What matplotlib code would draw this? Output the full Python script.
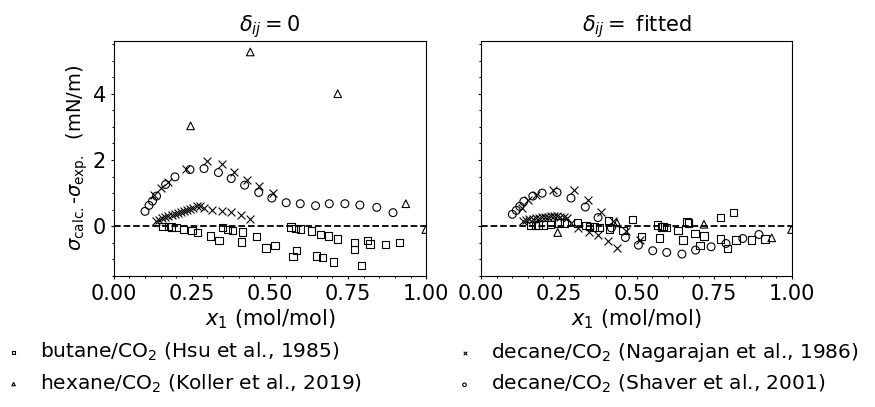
import matplotlib
matplotlib.use("Agg")
import matplotlib.pyplot as plt
from matplotlib.ticker import MultipleLocator

# butane/CO2 (Hsu et al., 1985)
x_but = [0.158, 0.175, 0.185, 0.199, 0.223, 0.25, 0.268, 0.31, 0.337, 0.349, 0.365, 0.38,
         0.41, 0.412, 0.456, 0.487, 0.516, 0.567, 0.574, 0.581, 0.585, 0.597, 0.633, 0.649,
         0.662, 0.668, 0.688, 0.704, 0.717, 0.771, 0.771, 0.793, 0.812, 0.82, 0.87, 0.914]
y_but_0 = [0, 0, -0.02, -0.04, -0.1, -0.12, -0.18, -0.29, -0.44, -0.04, -0.09, -0.12,
           -0.48, -0.17, -0.3, -0.66, -0.58, -0.02, -0.92, -0.06, -0.74, -0.08, -0.14, -0.9,
           -0.24, -0.94, -0.29, -1.08, -0.39, -0.5, -0.7, -1.19, -0.43, -0.54, -0.56, -0.5]
y_but_fit = [0.02, 0.03, 0.04, 0.04, 0.06, 0.1, 0.1, 0.1, 0.02, 0.0, -0.02, -0.03,
             0.18, -0.08, -0.12, 0.2, -0.3, 0.04, -0.35, -0.02, 0.0, -0.04, -0.12, -0.42,
             0.13, 0.1, -0.21, -0.58, -0.29, 0.26, -0.39, -0.67, 0.42, -0.41, -0.42, -0.39]

# hexane/CO2 (Koller et al., 2019)
x_hex = [0.246, 0.437, 0.717, 0.935, 0.999]
y_hex_0 = [3.03, 5.26, 4.0, 0.68, -0.1]
y_hex_fit = [-0.19, 0.1, 0.06, -0.35, -0.1]

# decane/CO2 (Nagarajan et al., 1986), two branches
x_dn = [0.13, 0.15, 0.175, 0.23, 0.30, 0.345, 0.385, 0.425, 0.465, 0.51,
        0.135, 0.145, 0.155, 0.165, 0.175, 0.185, 0.195, 0.205, 0.215, 0.225, 0.235,
        0.245, 0.255, 0.265, 0.275, 0.29, 0.313, 0.346, 0.375, 0.407, 0.437]
y_dn_0 = [0.95, 1.14, 1.34, 1.72, 1.98, 1.87, 1.63, 1.40, 1.20, 0.99,
          0.16, 0.2, 0.24, 0.28, 0.32, 0.35, 0.38, 0.41, 0.44, 0.47, 0.5,
          0.53, 0.56, 0.6, 0.62, 0.55, 0.5, 0.46, 0.44, 0.35, 0.21]
y_dn_fit = [0.55, 0.78, 0.95, 1.1, 1.08, 0.78, 0.42, 0.15, -0.14, -0.42,
            0.16, 0.19, 0.21, 0.23, 0.25, 0.26, 0.27, 0.28, 0.29, 0.3, 0.3,
            0.3, 0.29, 0.27, 0.24, 0.1, -0.04, -0.16, -0.26, -0.45, -0.66]

# decane/CO2 (Shaver et al., 2001)
x_ds = [0.1, 0.113, 0.124, 0.137, 0.166, 0.196, 0.244, 0.289, 0.335, 0.376, 0.419,
        0.464, 0.506, 0.552, 0.597, 0.646, 0.69, 0.74, 0.788, 0.842, 0.894]
y_ds_0 = [0.45, 0.63, 0.76, 0.91, 1.26, 1.49, 1.71, 1.74, 1.62, 1.44, 1.24,
          1.02, 0.85, 0.71, 0.68, 0.62, 0.68, 0.68, 0.64, 0.57, 0.41]
y_ds_fit = [0.36, 0.48, 0.6, 0.75, 0.91, 1.0, 1.02, 0.85, 0.58, 0.26, -0.05,
            -0.34, -0.57, -0.74, -0.79, -0.84, -0.72, -0.62, -0.52, -0.37, -0.25]

labels = ["butane/CO$_2$ (Hsu et al., 1985)",
          "hexane/CO$_2$ (Koller et al., 2019)",
          "decane/CO$_2$ (Nagarajan et al., 1986)",
          "decane/CO$_2$ (Shaver et al., 2001)"]

plt.rcParams['font.size'] = 15

fig = plt.figure(figsize=(8.75, 4.07), dpi=100)
ax1 = fig.add_axes([0.130, 0.322, 0.357, 0.578])
ax2 = fig.add_axes([0.550, 0.322, 0.355, 0.578], sharey=ax1)

mk = dict(facecolors='none', edgecolors='black', linewidths=0.8)
series = [
    (x_but, y_but_0, y_but_fit, 's', 28),
    (x_hex, y_hex_0, y_hex_fit, '^', 30),
    (x_dn, y_dn_0, y_dn_fit, 'x', 32),
    (x_ds, y_ds_0, y_ds_fit, 'o', 32),
]

handles = []
for ax, idx in [(ax1, 1), (ax2, 2)]:
    for s in series:
        if s[3] == 'x':
            h = ax.scatter(s[0], s[idx], marker='x', s=s[4], color='black', linewidths=0.8)
        else:
            h = ax.scatter(s[0], s[idx], marker=s[3], s=s[4], **mk)
        if idx == 1:
            handles.append(h)
    ax.axhline(0, color='black', ls='--', lw=1.3)
    ax.set_xlim(0, 1)
    ax.set_ylim(-1.5, 5.6)
    ax.xaxis.set_major_locator(MultipleLocator(0.25))
    ax.xaxis.set_minor_locator(MultipleLocator(0.05))
    ax.yaxis.set_major_locator(MultipleLocator(2))
    ax.yaxis.set_minor_locator(MultipleLocator(0.5))
    ax.tick_params(which='major', length=2.5, width=0.8, pad=3)
    ax.tick_params(which='minor', length=1.5, width=0.8)
    ax.set_xlabel("$x_1$ (mol/mol)", labelpad=3)

ax2.tick_params(labelleft=False)
ax1.set_title(r"$\delta_{ij} = 0$", fontsize=15, pad=7)
ax2.set_title(r"$\delta_{ij} =$ fitted", fontsize=15, pad=7)
ax1.set_ylabel(r"$\sigma_{\rm calc.}$-$\sigma_{\rm exp.}$  (mN/m)", fontsize=14, labelpad=2)

fig.legend(handles, labels, ncol=2, loc='upper left', bbox_to_anchor=(0.004, 1 - 341 / 407),
           frameon=False, markerscale=0.45, handlelength=1.0, handletextpad=0.8,
           columnspacing=4.6, labelspacing=0.45, borderpad=0, borderaxespad=0,
           fontsize=14.5)

fig.savefig("out.png", dpi=100)
